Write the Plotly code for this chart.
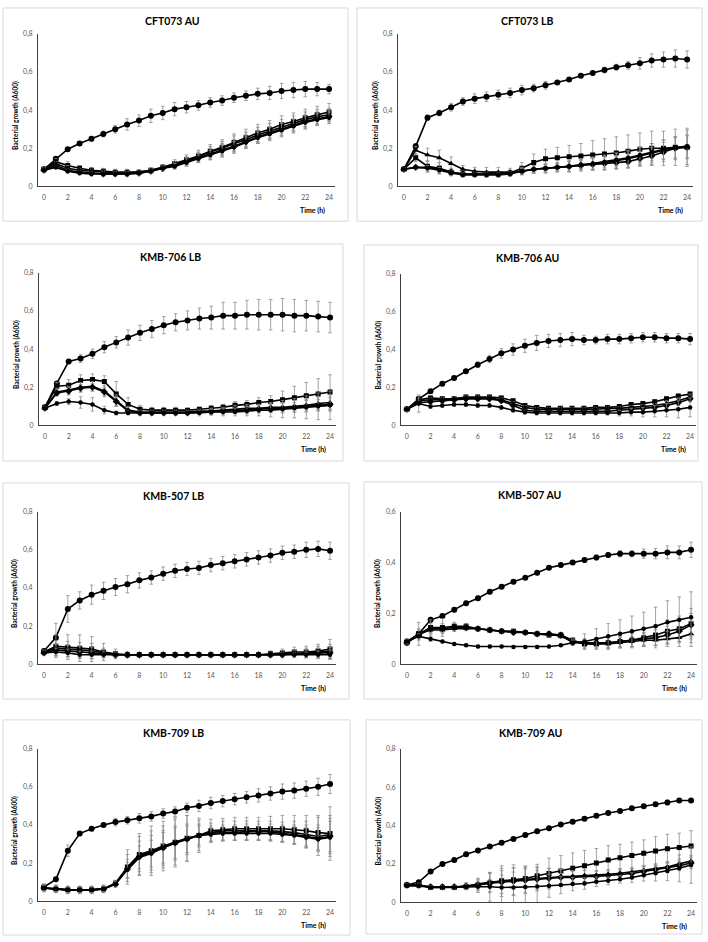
import plotly.graph_objects as go

# ---------------- data ----------------
hours = list(range(25))
x_tick_vals = [0, 2, 4, 6, 8, 10, 12, 14, 16, 18, 20, 22, 24]
x_tick_text = ["0", "2", "4", "6", "8", "10", "12", "14", "16", "18", "20", "22", "24"]
y_tick_vals_08 = [0, 0.2, 0.4, 0.6, 0.8]
y_tick_text_08 = ["0", "0,2", "0,4", "0,6", "0,8"]
y_tick_vals_06 = [0, 0.2, 0.4, 0.6]
y_tick_text_06 = ["0", "0,2", "0,4", "0,6"]

panel_titles = ["CFT073 AU", "CFT073 LB", "KMB-706 LB", "KMB-706 AU",
                "KMB-507 LB", "KMB-507 AU", "KMB-709 LB", "KMB-709 AU"]
y_title = "Bacterial growth (A600)"
x_title = "Time (h)"

# CFT073 AU
cft_au_1 = [0.09,0.145,0.195,0.225,0.25,0.275,0.30,0.325,0.345,0.37,0.385,0.405,0.415,0.425,0.44,0.45,0.465,0.475,0.485,0.49,0.50,0.505,0.51,0.51,0.51]
cft_au_1e = [0.01,0.01,0.01,0.01,0.012,0.015,0.02,0.03,0.03,0.035,0.035,0.035,0.03,0.025,0.025,0.025,0.025,0.025,0.03,0.035,0.04,0.04,0.04,0.035,0.025]
cft_au_2 = [0.09,0.13,0.11,0.095,0.085,0.08,0.075,0.075,0.075,0.085,0.10,0.12,0.14,0.16,0.185,0.205,0.23,0.255,0.28,0.30,0.325,0.34,0.36,0.375,0.39]
cft_au_2e = [0.01,0.015,0.02,0.015,0.015,0.015,0.015,0.015,0.01,0.01,0.015,0.02,0.025,0.03,0.035,0.04,0.045,0.045,0.045,0.045,0.045,0.045,0.045,0.045,0.045]
cft_au_3 = [0.09,0.12,0.095,0.085,0.08,0.075,0.07,0.07,0.075,0.085,0.10,0.115,0.135,0.155,0.18,0.20,0.225,0.245,0.27,0.29,0.31,0.33,0.35,0.365,0.375]
cft_au_3e = [0.01,0.01,0.015,0.01,0.01,0.01,0.01,0.01,0.01,0.01,0.015,0.015,0.02,0.025,0.03,0.035,0.04,0.04,0.04,0.04,0.04,0.04,0.04,0.04,0.035]
cft_au_4 = [0.085,0.11,0.085,0.075,0.07,0.065,0.065,0.065,0.07,0.08,0.095,0.11,0.13,0.15,0.17,0.19,0.21,0.235,0.26,0.28,0.30,0.32,0.34,0.355,0.365]
cft_au_4e = [0.01,0.01,0.01,0.01,0.01,0.01,0.01,0.01,0.01,0.01,0.015,0.015,0.02,0.025,0.03,0.035,0.035,0.035,0.035,0.035,0.035,0.035,0.035,0.035,0.035]
cft_au_5 = [0.085,0.10,0.08,0.07,0.065,0.065,0.065,0.065,0.07,0.08,0.095,0.105,0.125,0.145,0.165,0.185,0.205,0.23,0.255,0.275,0.295,0.315,0.335,0.35,0.36]
cft_au_5e = [0.01,0.01,0.01,0.01,0.01,0.01,0.01,0.01,0.01,0.01,0.01,0.015,0.02,0.02,0.025,0.03,0.03,0.03,0.03,0.035,0.035,0.035,0.035,0.03,0.03]

# CFT073 LB
cft_lb_1 = [0.09,0.21,0.36,0.385,0.415,0.445,0.46,0.47,0.48,0.49,0.505,0.515,0.53,0.545,0.56,0.58,0.595,0.61,0.625,0.635,0.645,0.66,0.665,0.67,0.665]
cft_lb_1e = [0.01,0.015,0.015,0.015,0.02,0.02,0.025,0.025,0.025,0.025,0.025,0.02,0.02,0.01,0.01,0.01,0.01,0.015,0.015,0.02,0.03,0.035,0.04,0.045,0.045]
cft_lb_2 = [0.09,0.15,0.105,0.095,0.075,0.065,0.065,0.065,0.065,0.07,0.095,0.125,0.145,0.15,0.155,0.16,0.165,0.17,0.175,0.185,0.195,0.20,0.20,0.205,0.205]
cft_lb_2e = [0.01,0.02,0.03,0.03,0.02,0.015,0.015,0.015,0.015,0.015,0.03,0.045,0.05,0.055,0.06,0.065,0.075,0.08,0.085,0.085,0.085,0.09,0.09,0.095,0.09]
cft_lb_3 = [0.09,0.19,0.165,0.15,0.12,0.09,0.08,0.075,0.075,0.075,0.08,0.09,0.095,0.10,0.105,0.11,0.12,0.125,0.135,0.145,0.16,0.175,0.19,0.20,0.205]
cft_lb_3e = [0.01,0.02,0.035,0.04,0.035,0.02,0.02,0.025,0.025,0.02,0.02,0.02,0.025,0.025,0.03,0.03,0.035,0.04,0.04,0.045,0.045,0.05,0.05,0.055,0.06]
cft_lb_4 = [0.09,0.10,0.10,0.09,0.075,0.065,0.065,0.065,0.065,0.07,0.08,0.09,0.095,0.10,0.105,0.11,0.115,0.12,0.125,0.13,0.145,0.16,0.18,0.20,0.205]
cft_lb_4e = [0.01,0.01,0.02,0.02,0.015,0.01,0.01,0.01,0.01,0.01,0.015,0.02,0.02,0.02,0.025,0.025,0.03,0.03,0.03,0.035,0.04,0.045,0.05,0.06,0.10]
cft_lb_5 = [0.09,0.10,0.095,0.085,0.07,0.06,0.06,0.06,0.06,0.065,0.08,0.09,0.095,0.10,0.105,0.115,0.12,0.13,0.14,0.15,0.165,0.18,0.195,0.205,0.21]
cft_lb_5e = [0.01,0.01,0.015,0.015,0.01,0.01,0.01,0.01,0.01,0.01,0.015,0.02,0.02,0.02,0.025,0.025,0.03,0.03,0.035,0.035,0.04,0.045,0.05,0.055,0.06]

# KMB-706 LB
k706_lb_1 = [0.095,0.22,0.335,0.35,0.375,0.41,0.435,0.46,0.485,0.505,0.525,0.54,0.55,0.56,0.565,0.575,0.575,0.58,0.58,0.58,0.58,0.575,0.575,0.57,0.565]
k706_lb_1e = [0.01,0.01,0.01,0.02,0.025,0.03,0.03,0.04,0.04,0.045,0.045,0.045,0.05,0.055,0.06,0.07,0.07,0.075,0.08,0.08,0.085,0.085,0.08,0.08,0.08]
k706_lb_2 = [0.095,0.205,0.21,0.235,0.24,0.23,0.165,0.11,0.085,0.08,0.08,0.08,0.08,0.085,0.09,0.095,0.105,0.11,0.12,0.125,0.135,0.145,0.155,0.165,0.175]
k706_lb_2e = [0.01,0.02,0.03,0.03,0.03,0.03,0.065,0.035,0.02,0.015,0.015,0.015,0.01,0.01,0.015,0.015,0.02,0.02,0.025,0.03,0.045,0.06,0.07,0.08,0.09]
k706_lb_3 = [0.09,0.175,0.185,0.20,0.205,0.18,0.13,0.08,0.07,0.07,0.07,0.07,0.07,0.075,0.075,0.08,0.085,0.09,0.09,0.095,0.095,0.10,0.105,0.115,0.12]
k706_lb_3e = [0.01,0.02,0.02,0.025,0.025,0.03,0.03,0.02,0.01,0.01,0.01,0.01,0.01,0.01,0.015,0.015,0.02,0.02,0.02,0.025,0.025,0.03,0.03,0.035,0.04]
k706_lb_4 = [0.09,0.17,0.18,0.195,0.20,0.175,0.125,0.075,0.065,0.065,0.065,0.065,0.065,0.07,0.07,0.075,0.08,0.08,0.085,0.09,0.09,0.095,0.10,0.105,0.11]
k706_lb_4e = [0.01,0.015,0.02,0.02,0.02,0.02,0.02,0.015,0.01,0.01,0.01,0.01,0.01,0.01,0.015,0.015,0.015,0.02,0.02,0.02,0.025,0.025,0.03,0.03,0.035]
k706_lb_5 = [0.09,0.115,0.125,0.12,0.11,0.08,0.065,0.065,0.065,0.065,0.065,0.065,0.065,0.065,0.07,0.07,0.07,0.075,0.08,0.08,0.085,0.09,0.095,0.10,0.105]
k706_lb_5e = [0.01,0.01,0.015,0.03,0.035,0.02,0.01,0.01,0.01,0.01,0.01,0.01,0.01,0.015,0.015,0.02,0.02,0.025,0.03,0.035,0.045,0.05,0.06,0.07,0.075]

# KMB-706 AU
k706_au_1 = [0.085,0.14,0.18,0.22,0.25,0.285,0.32,0.35,0.38,0.40,0.42,0.435,0.445,0.45,0.455,0.45,0.45,0.455,0.455,0.46,0.465,0.465,0.46,0.46,0.455]
k706_au_1e = [0.01,0.01,0.01,0.01,0.01,0.01,0.015,0.02,0.025,0.03,0.035,0.04,0.035,0.035,0.035,0.025,0.02,0.025,0.025,0.025,0.025,0.025,0.025,0.025,0.03]
k706_au_2 = [0.085,0.135,0.145,0.14,0.14,0.15,0.15,0.15,0.145,0.13,0.105,0.095,0.09,0.09,0.09,0.09,0.095,0.095,0.10,0.11,0.115,0.125,0.14,0.155,0.165]
k706_au_2e = [0.01,0.015,0.01,0.01,0.01,0.01,0.01,0.01,0.01,0.01,0.01,0.01,0.01,0.01,0.01,0.01,0.01,0.01,0.01,0.01,0.01,0.01,0.01,0.01,0.01]
k706_au_3 = [0.085,0.13,0.135,0.135,0.14,0.145,0.145,0.145,0.135,0.115,0.095,0.085,0.085,0.085,0.085,0.085,0.085,0.09,0.09,0.095,0.10,0.105,0.115,0.13,0.15]
k706_au_3e = [0.01,0.01,0.01,0.01,0.01,0.01,0.01,0.01,0.01,0.01,0.01,0.01,0.01,0.01,0.01,0.01,0.01,0.01,0.01,0.01,0.01,0.01,0.015,0.015,0.015]
k706_au_4 = [0.085,0.12,0.125,0.13,0.135,0.14,0.14,0.14,0.13,0.105,0.08,0.075,0.075,0.075,0.075,0.075,0.075,0.075,0.08,0.085,0.09,0.095,0.105,0.12,0.14]
k706_au_4e = [0.01,0.01,0.01,0.01,0.01,0.01,0.01,0.01,0.01,0.01,0.01,0.01,0.01,0.01,0.01,0.01,0.01,0.01,0.01,0.01,0.01,0.01,0.01,0.015,0.015]
k706_au_5 = [0.085,0.115,0.10,0.105,0.11,0.11,0.105,0.105,0.095,0.08,0.07,0.065,0.065,0.065,0.065,0.065,0.065,0.065,0.065,0.07,0.07,0.075,0.08,0.085,0.095]
k706_au_5e = [0.01,0.045,0.01,0.01,0.01,0.01,0.01,0.01,0.01,0.01,0.01,0.01,0.01,0.01,0.01,0.01,0.01,0.01,0.015,0.02,0.025,0.03,0.035,0.045,0.05]

# KMB-507 LB
k507_lb_1 = [0.07,0.14,0.29,0.335,0.365,0.385,0.405,0.42,0.44,0.455,0.475,0.49,0.50,0.505,0.52,0.53,0.54,0.55,0.56,0.57,0.585,0.59,0.60,0.605,0.595]
k507_lb_1e = [0.01,0.075,0.07,0.045,0.05,0.045,0.045,0.045,0.04,0.035,0.035,0.035,0.035,0.035,0.035,0.035,0.035,0.035,0.035,0.035,0.035,0.035,0.04,0.04,0.045]
k507_lb_2 = [0.065,0.095,0.09,0.085,0.08,0.065,0.055,0.05,0.05,0.05,0.05,0.05,0.05,0.05,0.05,0.05,0.05,0.05,0.05,0.055,0.06,0.065,0.065,0.07,0.08]
k507_lb_2e = [0.01,0.06,0.065,0.07,0.065,0.045,0.025,0.015,0.005,0.005,0.005,0.005,0.005,0.005,0.005,0.005,0.005,0.005,0.01,0.015,0.02,0.025,0.03,0.035,0.05]
k507_lb_3 = [0.065,0.085,0.08,0.075,0.07,0.06,0.05,0.05,0.05,0.05,0.05,0.05,0.05,0.05,0.05,0.05,0.05,0.05,0.05,0.05,0.055,0.055,0.06,0.065,0.07]
k507_lb_3e = [0.01,0.04,0.04,0.04,0.04,0.025,0.015,0.01,0.005,0.005,0.005,0.005,0.005,0.005,0.005,0.005,0.005,0.005,0.005,0.01,0.015,0.02,0.025,0.03,0.035]
k507_lb_4 = [0.06,0.075,0.07,0.065,0.06,0.055,0.05,0.05,0.05,0.05,0.05,0.05,0.05,0.05,0.05,0.05,0.05,0.05,0.05,0.05,0.05,0.055,0.055,0.06,0.06]
k507_lb_4e = [0.01,0.03,0.03,0.03,0.03,0.02,0.01,0.005,0.005,0.005,0.005,0.005,0.005,0.005,0.005,0.005,0.005,0.005,0.005,0.01,0.01,0.015,0.02,0.025,0.03]
k507_lb_5 = [0.06,0.065,0.06,0.05,0.05,0.05,0.05,0.05,0.05,0.05,0.05,0.05,0.05,0.05,0.05,0.05,0.05,0.05,0.05,0.05,0.05,0.05,0.05,0.05,0.05]
k507_lb_5e = [0.01,0.02,0.02,0.02,0.02,0.015,0.01,0.005,0.005,0.005,0.005,0.005,0.005,0.005,0.005,0.005,0.005,0.005,0.005,0.005,0.01,0.01,0.015,0.02,0.025]

# KMB-507 AU
k507_au_1 = [0.09,0.12,0.175,0.19,0.215,0.24,0.26,0.285,0.305,0.325,0.34,0.36,0.38,0.39,0.40,0.41,0.42,0.43,0.435,0.435,0.435,0.435,0.44,0.44,0.45]
k507_au_1e = [0.01,0.01,0.01,0.008,0.008,0.008,0.008,0.008,0.008,0.008,0.008,0.008,0.008,0.008,0.008,0.01,0.01,0.01,0.012,0.012,0.018,0.02,0.025,0.025,0.03]
k507_au_2 = [0.085,0.12,0.145,0.145,0.15,0.15,0.14,0.135,0.13,0.13,0.125,0.12,0.115,0.115,0.095,0.08,0.08,0.085,0.09,0.095,0.105,0.115,0.13,0.14,0.16]
k507_au_2e = [0.01,0.045,0.03,0.035,0.015,0.01,0.008,0.008,0.008,0.008,0.008,0.008,0.008,0.008,0.01,0.02,0.02,0.025,0.025,0.03,0.035,0.04,0.045,0.05,0.06]
k507_au_3 = [0.085,0.12,0.135,0.135,0.14,0.14,0.14,0.135,0.13,0.13,0.125,0.12,0.12,0.11,0.09,0.08,0.08,0.08,0.085,0.09,0.095,0.095,0.10,0.105,0.12]
k507_au_3e = [0.01,0.02,0.01,0.01,0.01,0.008,0.008,0.008,0.008,0.008,0.008,0.008,0.008,0.008,0.01,0.015,0.015,0.015,0.02,0.02,0.025,0.03,0.03,0.035,0.05]
k507_au_4 = [0.085,0.115,0.14,0.14,0.145,0.145,0.14,0.135,0.13,0.125,0.125,0.12,0.12,0.115,0.085,0.085,0.085,0.085,0.09,0.095,0.10,0.105,0.115,0.13,0.155]
k507_au_4e = [0.01,0.02,0.02,0.02,0.015,0.01,0.008,0.008,0.008,0.008,0.008,0.008,0.008,0.008,0.01,0.015,0.015,0.02,0.02,0.025,0.025,0.03,0.035,0.04,0.045]
k507_au_5 = [0.09,0.11,0.10,0.09,0.08,0.075,0.07,0.07,0.07,0.068,0.068,0.068,0.07,0.075,0.085,0.09,0.10,0.11,0.12,0.13,0.14,0.15,0.165,0.175,0.185]
k507_au_5e = [0.01,0.01,0.01,0.005,0.005,0.005,0.005,0.005,0.005,0.005,0.005,0.005,0.005,0.005,0.01,0.03,0.04,0.05,0.055,0.06,0.065,0.075,0.085,0.09,0.10]

# KMB-709 LB
k709_lb_1 = [0.075,0.115,0.265,0.355,0.38,0.40,0.415,0.425,0.435,0.445,0.46,0.47,0.49,0.50,0.515,0.525,0.535,0.545,0.555,0.565,0.575,0.58,0.59,0.60,0.615]
k709_lb_1e = [0.015,0.01,0.03,0.01,0.01,0.01,0.02,0.02,0.025,0.025,0.025,0.025,0.025,0.03,0.03,0.03,0.03,0.03,0.035,0.035,0.04,0.04,0.04,0.045,0.05]
k709_lb_2 = [0.07,0.065,0.06,0.06,0.06,0.065,0.095,0.18,0.245,0.265,0.29,0.31,0.33,0.345,0.37,0.375,0.38,0.38,0.38,0.38,0.38,0.375,0.37,0.36,0.355]
k709_lb_2e = [0.02,0.02,0.02,0.02,0.02,0.02,0.015,0.09,0.11,0.13,0.13,0.13,0.12,0.09,0.06,0.06,0.06,0.06,0.06,0.065,0.07,0.075,0.08,0.09,0.14]
k709_lb_3 = [0.07,0.065,0.06,0.06,0.06,0.065,0.095,0.175,0.24,0.26,0.285,0.31,0.33,0.345,0.36,0.37,0.37,0.37,0.37,0.37,0.365,0.36,0.35,0.34,0.35]
k709_lb_3e = [0.015,0.015,0.015,0.015,0.015,0.015,0.015,0.07,0.1,0.11,0.11,0.12,0.12,0.08,0.05,0.05,0.05,0.05,0.05,0.05,0.05,0.06,0.07,0.1,0.1]
k709_lb_4 = [0.07,0.065,0.06,0.06,0.06,0.065,0.09,0.17,0.235,0.255,0.28,0.305,0.325,0.345,0.355,0.36,0.36,0.365,0.365,0.365,0.355,0.35,0.34,0.33,0.34]
k709_lb_4e = [0.015,0.015,0.015,0.015,0.015,0.015,0.015,0.05,0.08,0.09,0.09,0.09,0.08,0.06,0.04,0.04,0.04,0.04,0.04,0.04,0.045,0.05,0.06,0.07,0.08]
k709_lb_5 = [0.07,0.065,0.06,0.06,0.06,0.065,0.09,0.165,0.23,0.25,0.28,0.305,0.325,0.345,0.35,0.355,0.355,0.355,0.355,0.355,0.35,0.345,0.335,0.325,0.335]
k709_lb_5e = [0.015,0.015,0.015,0.015,0.015,0.015,0.015,0.04,0.06,0.07,0.08,0.08,0.07,0.05,0.035,0.035,0.035,0.035,0.035,0.035,0.04,0.045,0.05,0.06,0.1]

# KMB-709 AU
k709_au_1 = [0.09,0.105,0.16,0.20,0.22,0.25,0.27,0.29,0.31,0.33,0.35,0.37,0.385,0.405,0.42,0.435,0.45,0.465,0.475,0.49,0.50,0.51,0.52,0.53,0.53]
k709_au_1e = [0.008,0.008,0.01,0.008,0.008,0.01,0.008,0.008,0.008,0.008,0.008,0.008,0.008,0.008,0.008,0.008,0.008,0.008,0.008,0.008,0.01,0.01,0.012,0.01,0.008]
k709_au_2 = [0.09,0.09,0.077,0.077,0.077,0.081,0.09,0.10,0.112,0.117,0.124,0.138,0.15,0.163,0.177,0.19,0.205,0.22,0.232,0.244,0.255,0.267,0.279,0.285,0.293]
k709_au_2e = [0.01,0.01,0.01,0.01,0.01,0.01,0.01,0.02,0.03,0.04,0.05,0.06,0.08,0.08,0.08,0.08,0.075,0.075,0.07,0.07,0.07,0.075,0.075,0.075,0.08]
k709_au_3 = [0.09,0.09,0.08,0.08,0.08,0.085,0.095,0.105,0.11,0.115,0.12,0.125,0.128,0.133,0.135,0.138,0.141,0.146,0.151,0.158,0.167,0.176,0.184,0.2,0.215]
k709_au_3e = [0.01,0.01,0.01,0.01,0.01,0.015,0.03,0.05,0.08,0.08,0.07,0.06,0.05,0.04,0.03,0.03,0.025,0.025,0.025,0.025,0.025,0.025,0.025,0.025,0.03]
k709_au_4 = [0.09,0.09,0.08,0.08,0.08,0.085,0.09,0.1,0.105,0.11,0.115,0.12,0.125,0.13,0.13,0.135,0.135,0.14,0.145,0.15,0.16,0.17,0.18,0.19,0.205]
k709_au_4e = [0.01,0.01,0.01,0.01,0.01,0.015,0.03,0.05,0.06,0.07,0.07,0.06,0.05,0.04,0.03,0.03,0.025,0.025,0.025,0.025,0.025,0.025,0.025,0.025,0.03]
k709_au_5 = [0.085,0.085,0.077,0.077,0.077,0.08,0.081,0.081,0.077,0.077,0.08,0.082,0.086,0.09,0.095,0.098,0.107,0.112,0.12,0.129,0.141,0.151,0.163,0.177,0.194]
k709_au_5e = [0.01,0.01,0.01,0.01,0.01,0.015,0.03,0.075,0.1,0.1,0.1,0.085,0.06,0.045,0.035,0.03,0.025,0.02,0.02,0.025,0.03,0.04,0.05,0.07,0.095]

panels_series = [
    [(cft_au_1, cft_au_1e), (cft_au_2, cft_au_2e), (cft_au_3, cft_au_3e), (cft_au_4, cft_au_4e), (cft_au_5, cft_au_5e)],
    [(cft_lb_1, cft_lb_1e), (cft_lb_2, cft_lb_2e), (cft_lb_3, cft_lb_3e), (cft_lb_4, cft_lb_4e), (cft_lb_5, cft_lb_5e)],
    [(k706_lb_1, k706_lb_1e), (k706_lb_2, k706_lb_2e), (k706_lb_3, k706_lb_3e), (k706_lb_4, k706_lb_4e), (k706_lb_5, k706_lb_5e)],
    [(k706_au_1, k706_au_1e), (k706_au_2, k706_au_2e), (k706_au_3, k706_au_3e), (k706_au_4, k706_au_4e), (k706_au_5, k706_au_5e)],
    [(k507_lb_1, k507_lb_1e), (k507_lb_2, k507_lb_2e), (k507_lb_3, k507_lb_3e), (k507_lb_4, k507_lb_4e), (k507_lb_5, k507_lb_5e)],
    [(k507_au_1, k507_au_1e), (k507_au_2, k507_au_2e), (k507_au_3, k507_au_3e), (k507_au_4, k507_au_4e), (k507_au_5, k507_au_5e)],
    [(k709_lb_1, k709_lb_1e), (k709_lb_2, k709_lb_2e), (k709_lb_3, k709_lb_3e), (k709_lb_4, k709_lb_4e), (k709_lb_5, k709_lb_5e)],
    [(k709_au_1, k709_au_1e), (k709_au_2, k709_au_2e), (k709_au_3, k709_au_3e), (k709_au_4, k709_au_4e), (k709_au_5, k709_au_5e)],
]
panel_ymax = [0.8, 0.8, 0.8, 0.8, 0.8, 0.6, 0.8, 0.8]

# ---------------- layout geometry (pixels) ----------------
W, H = 708, 942
# box (x0,y0,x1,y1), plot area (x0,x1,ytop,ybottom)
geom = [
    dict(box=(3, 3, 348, 218), plot=(38, 335, 29, 183)),
    dict(box=(357, 3, 702, 218), plot=(398, 693, 29, 183)),
    dict(box=(3, 241, 343, 460), plot=(39, 336, 270, 424)),
    dict(box=(364, 242, 698, 460), plot=(401, 696, 271, 424)),
    dict(box=(3, 482, 349, 700), plot=(38, 336, 511, 665)),
    dict(box=(364, 481, 702, 700), plot=(401, 697, 511, 665)),
    dict(box=(3, 721, 350, 938), plot=(38, 336, 750, 904)),
    dict(box=(366, 721, 702, 937), plot=(401, 697, 750, 905)),
]

def px(x):
    return x / W

def py(y):
    return 1 - y / H

FONT = "Lato, 'Open Sans', sans-serif"
markers = ["circle", "square", "triangle-up", "diamond", "circle"]
msizes = [6, 5, 5.5, 5.5, 4.5]

fig = go.Figure()
shapes = []
annotations = []
layout_axes = {}

for i, g in enumerate(geom):
    n = i + 1
    xa = "x" if n == 1 else f"x{n}"
    ya = "y" if n == 1 else f"y{n}"
    for k, (vals, errs) in enumerate(panels_series[i]):
        fig.add_trace(go.Scatter(
            x=hours, y=vals, xaxis=xa, yaxis=ya, mode="lines+markers",
            line=dict(color="black", width=1.6),
            marker=dict(symbol=markers[k], size=msizes[k], color="black"),
            error_y=dict(type="data", array=errs, visible=True,
                         color="#8c8c8c", thickness=0.8, width=1.8),
            showlegend=False, hoverinfo="skip"))
    x0, x1, yt, yb = g["plot"]
    ymax = panel_ymax[i]
    if ymax > 0.7:
        tv, tt = y_tick_vals_08, y_tick_text_08
    else:
        tv, tt = y_tick_vals_06, y_tick_text_06
    xkey = "xaxis" if n == 1 else f"xaxis{n}"
    ykey = "yaxis" if n == 1 else f"yaxis{n}"
    layout_axes[xkey] = dict(
        domain=[px(x0), px(x1)], anchor=ya, range=[-0.5, 24.5],
        showgrid=False, zeroline=False, showline=True, linecolor="#404040", linewidth=1,
        tickvals=x_tick_vals, ticktext=x_tick_text, ticks="outside", ticklen=4,
        tickcolor="rgba(0,0,0,0)", tickfont=dict(family=FONT, size=7, color="#595959"))
    layout_axes[ykey] = dict(
        domain=[py(yb), py(yt)], anchor=xa, range=[0, ymax],
        showgrid=False, zeroline=False, showline=True, linecolor="#404040", linewidth=1,
        tickvals=tv, ticktext=tt, ticks="outside", ticklen=3,
        tickcolor="rgba(0,0,0,0)", tickfont=dict(family=FONT, size=7, color="#595959"))
    bx0, by0, bx1, by1 = g["box"]
    shapes.append(dict(type="rect", xref="paper", yref="paper",
                       x0=px(bx0), x1=px(bx1), y0=py(by1), y1=py(by0),
                       line=dict(color="#d9d9d9", width=1), layer="below"))
    # title
    annotations.append(dict(text=f"<b>{panel_titles[i]}</b>", xref="paper", yref="paper",
                            x=px((bx0 + bx1) / 2 - 3), y=py(by0 + 13), xanchor="center", yanchor="middle",
                            showarrow=False, font=dict(family=FONT, size=10.5, color="black")))
    # y-title
    annotations.append(dict(text=f"<b>{y_title}</b>", xref="paper", yref="paper",
                            x=px(x0 - 23), y=py((yt + yb) / 2 + 6), xanchor="center", yanchor="middle",
                            textangle=-90, showarrow=False,
                            font=dict(family=FONT, size=6.5, color="black")))
    # x-title
    annotations.append(dict(text=f"<b>{x_title}</b>", xref="paper", yref="paper",
                            x=px(x1 - 23), y=py(yb + 24), xanchor="center", yanchor="middle",
                            showarrow=False, font=dict(family=FONT, size=7, color="black")))

fig.update_layout(
    width=W, height=H, margin=dict(l=0, r=0, t=0, b=0),
    paper_bgcolor="white", plot_bgcolor="white",
    shapes=shapes, annotations=annotations, showlegend=False,
    **layout_axes)

fig.write_html("out.html", config={"displayModeBar": False},
               post_script="document.body.style.margin='0';document.body.style.overflow='hidden';")
